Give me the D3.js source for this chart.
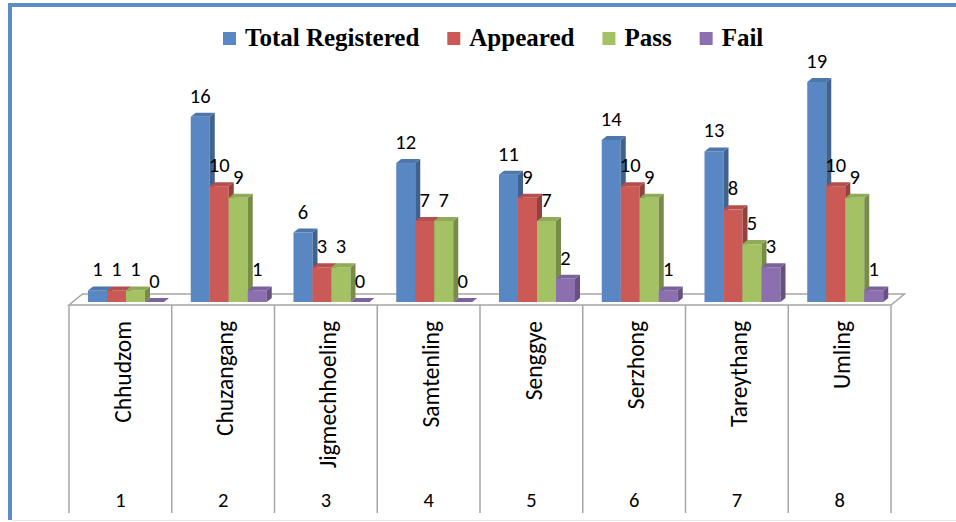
<!DOCTYPE html>
<html>
<head>
<meta charset="utf-8">
<script src="https://cdn.jsdelivr.net/npm/d3@7"></script>
<style>
    body { margin: 0; background: #fff; }
    svg { display: block; }
</style>
</head>
<body>
<svg id="svg-chart"></svg>
<script>
// categories and series
let categories = ['Chhudzom', 'Chuzangang', 'Jigmechhoeling', 'Samtenling', 'Senggye', 'Serzhong', 'Tareythang', 'Umling'];
let categoryNumbers = ['1', '2', '3', '4', '5', '6', '7', '8'];
let seriesNames = ['Total Registered', 'Appeared', 'Pass', 'Fail'];
let totalRegistered = [1, 16, 6, 12, 11, 14, 13, 19];
let appeared = [1, 10, 3, 7, 9, 10, 8, 10];
let pass = [1, 9, 3, 7, 7, 9, 5, 9];
let fail = [0, 1, 0, 0, 2, 1, 3, 1];
let seriesColors = ['#5887c3', '#cb5a56', '#a4c163', '#8c6faf'];

function draw_chart() {
    let width = 956,
        height = 522;
    let svg = d3.select('#svg-chart')
        .attr('width', width)
        .attr('height', height);
    let labelFont = "Carlito, Calibri, 'Open Sans', sans-serif";

    // frame: blue top / left border, light bottom line
    svg.append('rect')
        .attr('x', 8).attr('y', 3)
        .attr('width', width - 8).attr('height', 4)
        .attr('fill', '#5b8cc6');
    svg.append('rect')
        .attr('x', 8).attr('y', 3)
        .attr('width', 4).attr('height', 517)
        .attr('fill', '#5b8cc6');
    svg.append('line')
        .attr('x1', 12).attr('x2', width)
        .attr('y1', 520.5).attr('y2', 520.5)
        .attr('stroke', '#e8e8e8')
        .attr('stroke-width', 1);

    // scales
    let floorFront = 305,
        floorBack = 294,
        floorDx = 13.5,
        tableBottom = 513;
    let xScale = d3.scaleBand()
        .domain(categories)
        .range([69, 891])
        .padding(0);
    let innerScale = d3.scaleBand()
        .domain(seriesNames)
        .range([19, 19 + 76]);
    let yScale = d3.scaleLinear()
        .domain([0, 19])
        .range([302, 82]);

    // floor
    let x0 = xScale.range()[0],
        x1 = xScale.range()[1];
    svg.append('polygon')
        .attr('points', [[x0, floorFront], [x1, floorFront], [x1 + floorDx, floorBack], [x0 + floorDx, floorBack]].join(' '))
        .attr('fill', '#fff')
        .attr('stroke', '#a6a6a6')
        .attr('stroke-width', 1.5);

    // table lines
    let bounds = categories.map(function (c) { return xScale(c); }).concat([x1]);
    svg.selectAll('.table-line')
        .data(bounds)
        .enter()
        .append('line')
        .attr('class', 'table-line')
        .attr('x1', function (d) { return d; })
        .attr('x2', function (d) { return d; })
        .attr('y1', floorFront)
        .attr('y2', tableBottom)
        .attr('stroke', '#a6a6a6')
        .attr('stroke-width', 1.5);

    // category names (rotated) and numbers
    svg.selectAll('.cat-name')
        .data(categories)
        .enter()
        .append('text')
        .attr('class', 'cat-name')
        .attr('transform', function (d) {
            return 'translate(' + (xScale(d) + xScale.bandwidth() / 2 + 2) + ',' + 321 + ') rotate(-90)';
        })
        .attr('text-anchor', 'end')
        .attr('dy', '0.35em')
        .style('font-family', labelFont)
        .style('font-size', '23.5px')
        .attr('fill', '#000')
        .text(function (d) { return d; });
    svg.selectAll('.cat-num')
        .data(categoryNumbers)
        .enter()
        .append('text')
        .attr('class', 'cat-num')
        .attr('x', function (d, i) { return xScale(categories[i]) + xScale.bandwidth() / 2; })
        .attr('y', 507)
        .attr('text-anchor', 'middle')
        .style('font-family', labelFont)
        .style('font-size', '20.5px')
        .attr('fill', '#000')
        .text(function (d) { return d; });

    // bars
    let seriesValues = [totalRegistered, appeared, pass, fail];
    let bars = [];
    for (let i = 0; i < categories.length; i++) {
        for (let s = 0; s < seriesNames.length; s++) {
            bars.push({cat: categories[i], series: seriesNames[s], s: s, value: seriesValues[s][i]});
        }
    }
    let dx = 5,
        dy = -4,
        bw = innerScale.bandwidth();
    let gBars = svg.append('g').attr('id', 'g-bars');
    bars.forEach(function (d) {
        let x = xScale(d.cat) + innerScale(d.series),
            yTop = yScale(d.value),
            yBase = yScale(0),
            base = d3.color(seriesColors[d.s]);
        let g = gBars.append('g');
        // front
        g.append('rect')
            .attr('x', x)
            .attr('y', yTop)
            .attr('width', bw)
            .attr('height', yBase - yTop)
            .attr('fill', base.formatHex());
        // side
        g.append('polygon')
            .attr('points', [[x + bw, yTop], [x + bw + dx, yTop + dy], [x + bw + dx, yBase + dy], [x + bw, yBase]].join(' '))
            .attr('fill', base.darker(0.9).formatHex());
        // top
        g.append('polygon')
            .attr('points', [[x, yTop], [x + dx, yTop + dy], [x + bw + dx, yTop + dy], [x + bw, yTop]].join(' '))
            .attr('fill', base.darker(0.35).formatHex());
    });

    // value labels
    svg.selectAll('.value-label')
        .data(bars)
        .enter()
        .append('text')
        .attr('class', 'value-label')
        .attr('x', function (d) { return xScale(d.cat) + innerScale(d.series) + bw / 2; })
        .attr('y', function (d) { return yScale(d.value) - 14; })
        .attr('text-anchor', 'middle')
        .style('font-family', labelFont)
        .style('font-size', '20.5px')
        .attr('fill', '#000')
        .text(function (d) { return d.value; });

    // legend
    let legend = svg.append('g').attr('id', 'g-legend');
    let lx = 223;
    seriesNames.forEach(function (name, i) {
        legend.append('rect')
            .attr('x', lx)
            .attr('y', 32)
            .attr('width', 13)
            .attr('height', 13)
            .attr('fill', seriesColors[i]);
        let t = legend.append('text')
            .attr('x', lx + 22)
            .attr('y', 46)
            .style('font-family', "'Liberation Serif', 'Times New Roman', serif")
            .style('font-weight', 'bold')
            .style('font-size', '25px')
            .attr('fill', '#000')
            .text(name);
        lx = lx + 22 + t.node().getComputedTextLength() + 28;
    });
}

draw_chart();
</script>
</body>
</html>
